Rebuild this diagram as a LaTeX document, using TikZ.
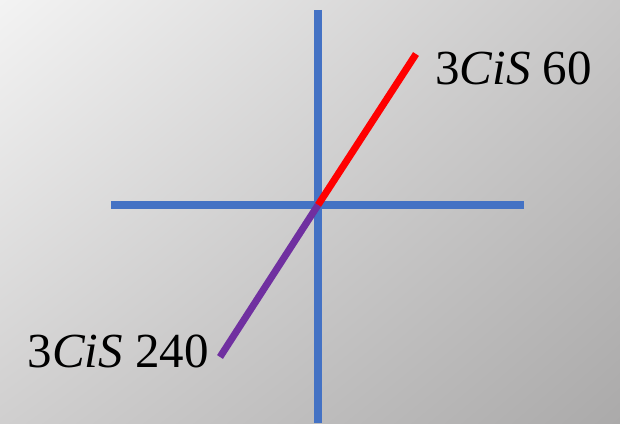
\documentclass[tikz,border=0pt]{standalone}
\usepackage{fontspec}
\usetikzlibrary{shadings}
\setmainfont{Liberation Serif}
\definecolor{axisblue}{HTML}{4472C4}
\definecolor{vecred}{HTML}{FF0000}
\definecolor{vecpurple}{HTML}{7030A0}
\definecolor{bgtl}{HTML}{F3F3F3}
\definecolor{bgtr}{HTML}{C8C7C7}
\definecolor{bgbl}{HTML}{D0CFCF}
\definecolor{bgbr}{HTML}{ABAAAA}
\tikzset{
  axisline/.style={draw=axisblue, line width=7.5pt},
  vecline/.style={line width=7pt},
  lbl/.style={font=\fontsize{49}{52}\selectfont, inner sep=0pt, text=black}
}
\begin{document}
\begin{tikzpicture}[x=1pt,y=1pt]
\shade[upper left=bgtl, upper right=bgtr, lower left=bgbl, lower right=bgbr] (0,0) rectangle (620,423);
\useasboundingbox (0,0) rectangle (620,423);
\begin{scope}[yshift=423pt, y=-1pt]
\coordinate (top) at (318,10);
\coordinate (bot) at (318,423);
\coordinate (lft) at (111,205);
\coordinate (rgt) at (524,205);
\coordinate (O) at (318,205);
\coordinate (A) at (416,54);
\coordinate (B) at (220,357);
\draw[axisline] (top) -- (bot);
\draw[axisline] (lft) -- (rgt);
\draw[vecline, draw=vecred] (O) -- (A);
\draw[vecline, draw=vecpurple] (O) -- (B);
\node[lbl, anchor=base west] (la) at (435,85) {3\textit{CiS} 60};
\node[lbl, anchor=base east] (lb) at (209,367) {3\textit{CiS} 240};
\end{scope}
\end{tikzpicture}
\end{document}
